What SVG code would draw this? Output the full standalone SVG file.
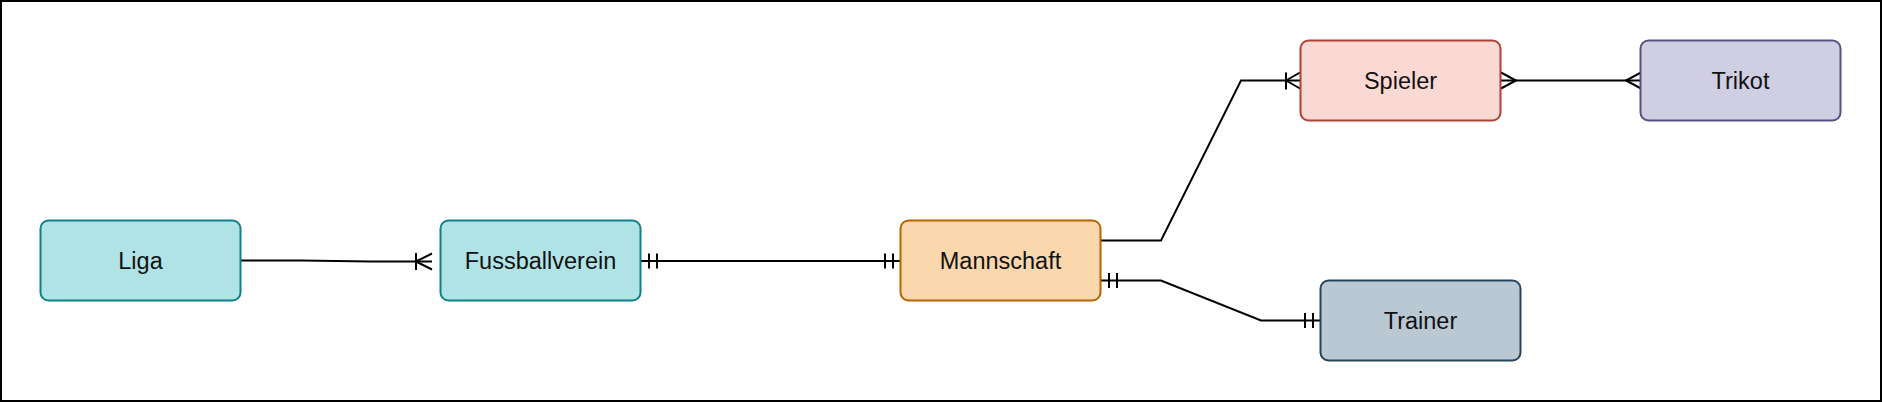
<svg xmlns="http://www.w3.org/2000/svg" width="1882" height="402" viewBox="0 0 1882 402">
<style>
.ent{stroke-width:2}
.lbl{font-family:"Liberation Sans",Arial,Helvetica,sans-serif;font-size:23.5px;fill:#111111;text-anchor:middle}
.c{fill:none;stroke:#000000;stroke-width:2;stroke-linejoin:miter}
</style>
<rect x="1" y="1" width="1880" height="400" fill="#ffffff" stroke="#000000" stroke-width="2"/>
<g id="connectors">
  <g id="e-liga-fv">
    <path class="c" d="M241,260.5 L301,260.5 L371,261.5 L432,261.5"/>
    <path class="c" d="M416,253 L416,270 M416,261.5 L432,253.5 M416,261.5 L432,269.5"/>
  </g>
  <g id="e-fv-ms">
    <path class="c" d="M641,261 L900,261"/>
    <path class="c" d="M649,253.5 L649,268.5 M657,253.5 L657,268.5 M885,253.5 L885,268.5 M893,253.5 L893,268.5"/>
  </g>
  <g id="e-ms-sp">
    <path class="c" d="M1101,240.5 L1161,240.5 L1241,80.5 L1300,80.5"/>
    <path class="c" d="M1286,72.5 L1286,89.5 M1286,80.5 L1300,72.5 M1286,80.5 L1300,88.5"/>
  </g>
  <g id="e-ms-tr">
    <path class="c" d="M1101,280.5 L1161,280.5 L1261,320.5 L1320,320.5"/>
    <path class="c" d="M1109,273 L1109,288 M1117,273 L1117,288 M1305,313 L1305,328 M1313,313 L1313,328"/>
  </g>
  <g id="e-sp-tk">
    <path class="c" d="M1501,80.5 L1641,80.5"/>
    <path class="c" d="M1501,72.5 L1516,80.5 L1501,88.5 M1641,72.5 L1626,80.5 L1641,88.5"/>
  </g>
</g>
<g id="liga">
  <rect class="ent" x="40.5" y="220.5" width="200" height="80" rx="8" fill="#b0e3e6" stroke="#0e8088"/>
  <text class="lbl" x="140.5" y="269">Liga</text>
</g>
<g id="fussballverein">
  <rect class="ent" x="440.5" y="220.5" width="200" height="80" rx="8" fill="#b0e3e6" stroke="#0e8088"/>
  <text class="lbl" x="540.5" y="269">Fussballverein</text>
</g>
<g id="mannschaft">
  <rect class="ent" x="900.5" y="220.5" width="200" height="80" rx="8" fill="#fad7ac" stroke="#b46504"/>
  <text class="lbl" x="1000.5" y="269">Mannschaft</text>
</g>
<g id="spieler">
  <rect class="ent" x="1300.5" y="40.5" width="200" height="80" rx="8" fill="#fad9d5" stroke="#ae4132"/>
  <text class="lbl" x="1400.5" y="89">Spieler</text>
</g>
<g id="trikot">
  <rect class="ent" x="1640.5" y="40.5" width="200" height="80" rx="8" fill="#d0cee2" stroke="#56517e"/>
  <text class="lbl" x="1740.5" y="89">Trikot</text>
</g>
<g id="trainer">
  <rect class="ent" x="1320.5" y="280.5" width="200" height="80" rx="8" fill="#bac8d3" stroke="#23445d"/>
  <text class="lbl" x="1420.5" y="329">Trainer</text>
</g>
</svg>
